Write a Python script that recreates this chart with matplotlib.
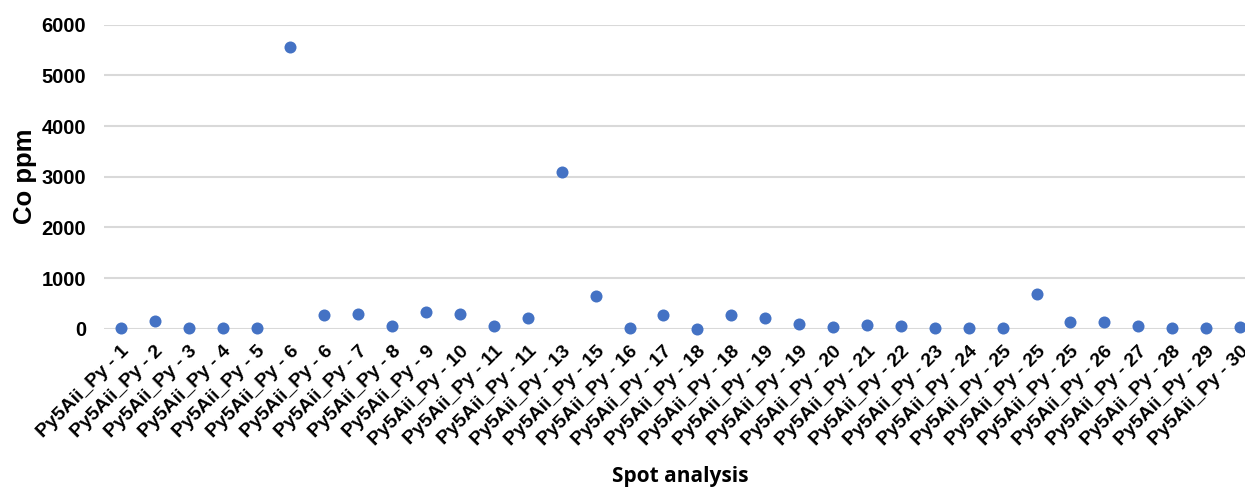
import matplotlib
matplotlib.use('Agg')
import matplotlib.pyplot as plt

spot_labels = [
    'Py5Aii_Py - 1', 'Py5Aii_Py - 2', 'Py5Aii_Py - 3', 'Py5Aii_Py - 4',
    'Py5Aii_Py - 5', 'Py5Aii_Py - 6', 'Py5Aii_Py - 6', 'Py5Aii_Py - 7',
    'Py5Aii_Py - 8', 'Py5Aii_Py - 9', 'Py5Aii_Py - 10', 'Py5Aii_Py - 11',
    'Py5Aii_Py - 11', 'Py5Aii_Py - 13', 'Py5Aii_Py - 15', 'Py5Aii_Py - 16',
    'Py5Aii_Py - 17', 'Py5Aii_Py - 18', 'Py5Aii_Py - 18', 'Py5Aii_Py - 19',
    'Py5Aii_Py - 19', 'Py5Aii_Py - 20', 'Py5Aii_Py - 21', 'Py5Aii_Py - 22',
    'Py5Aii_Py - 23', 'Py5Aii_Py - 24', 'Py5Aii_Py - 25', 'Py5Aii_Py - 25',
    'Py5Aii_Py - 25', 'Py5Aii_Py - 26', 'Py5Aii_Py - 27', 'Py5Aii_Py - 28',
    'Py5Aii_Py - 29', 'Py5Aii_Py - 30',
]

co_ppm = [
    10, 160, 10, 10, 10, 5560, 280, 300, 60, 335, 290, 45,
    210, 3100, 645, 20, 262, 0, 262, 205, 100, 40, 73, 53,
    5, 5, 5, 690, 125, 125, 53, 13, 13, 40,
]

y_ticks = [0, 1000, 2000, 3000, 4000, 5000, 6000]

plt.rcParams['font.family'] = ['Liberation Sans', 'DejaVu Sans']

fig = plt.figure(figsize=(12.45, 4.87), dpi=100)
ax = fig.add_axes([0.0835, 0.325, 0.9261, 0.6242])

x = list(range(len(co_ppm)))
ax.scatter(x, co_ppm, s=75, color='#4472C4', zorder=3, clip_on=False, linewidths=0)

ax.set_xlim(-0.5, len(co_ppm) - 0.5)
ax.set_ylim(0, 6000)
ax.set_yticks(y_ticks)
ax.set_yticklabels([str(v) for v in y_ticks], fontsize=14.5, fontweight='bold')
ax.yaxis.grid(True, color='#D9D9D9', linewidth=1.5)
ax.set_axisbelow(True)

ax.set_xticks(x)
ax.set_xticklabels(spot_labels, rotation=45, ha='right', rotation_mode='anchor',
                   fontsize=14, fontweight='bold')
ax.tick_params(axis='both', length=0)
ax.tick_params(axis='y', pad=13)
ax.tick_params(axis='x', pad=10)

for side in ['top', 'right', 'left', 'bottom']:
    ax.spines[side].set_visible(False)

ax.set_ylabel('Co ppm', fontsize=18.5, fontweight='bold')
ax.yaxis.set_label_coords(-0.058, 0.5)
ax.set_xlabel('Spot analysis', fontsize=15, fontweight='bold', family='Open Sans')
ax.xaxis.set_label_coords(0.5, -0.452)

fig.savefig('out.png', dpi=100)
